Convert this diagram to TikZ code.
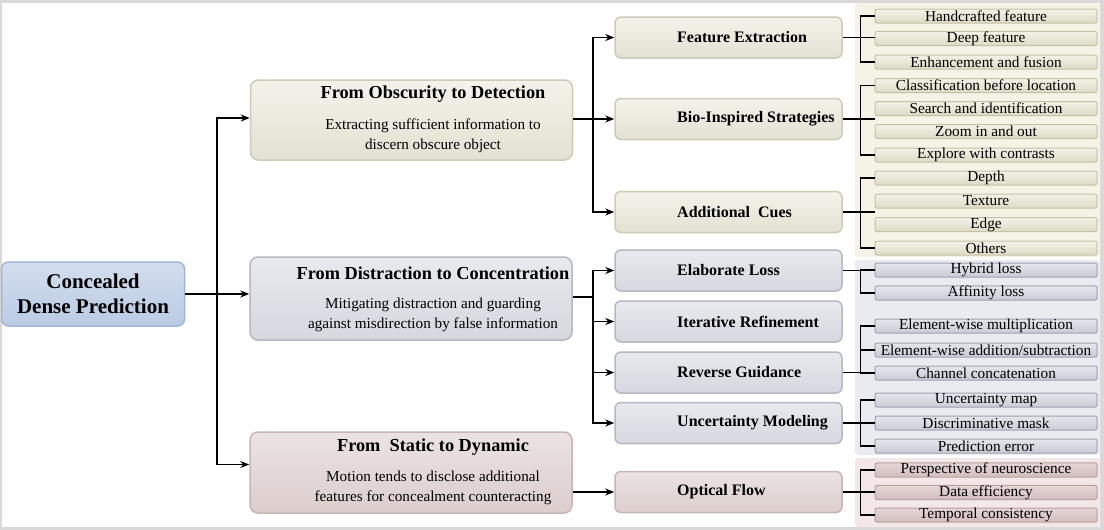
\documentclass[tikz,border=0pt]{standalone}
\usepackage{fontspec}
\setmainfont{Liberation Serif}
\usetikzlibrary{arrows.meta}

\definecolor{frameGray}{HTML}{D9D9D9}
\definecolor{rootTop}{HTML}{D3DEEE}
\definecolor{rootBot}{HTML}{B9CBE4}
\definecolor{rootLine}{HTML}{A0B6D6}
\definecolor{obTop}{HTML}{F4F3EB}
\definecolor{obBot}{HTML}{E2E1D2}
\definecolor{obLine}{HTML}{CDCCB6}
\definecolor{diTop}{HTML}{E9EAEF}
\definecolor{diBot}{HTML}{D6D7DF}
\definecolor{diLine}{HTML}{B6B8C2}
\definecolor{stTop}{HTML}{EBE3E2}
\definecolor{stBot}{HTML}{DCCECD}
\definecolor{stLine}{HTML}{C7B6B5}
\definecolor{obPanel}{HTML}{F5F3E6}
\definecolor{diPanel}{HTML}{EAEBF0}
\definecolor{stPanel}{HTML}{F3E8E7}
\definecolor{obLeafTop}{HTML}{F3F2E6}
\definecolor{obLeafBot}{HTML}{DDDBC6}
\definecolor{obLeafLine}{HTML}{C4C2A6}
\definecolor{diLeafTop}{HTML}{E4E6EC}
\definecolor{diLeafBot}{HTML}{C9CCD6}
\definecolor{diLeafLine}{HTML}{9FA3B0}
\definecolor{stLeafTop}{HTML}{E6D6D6}
\definecolor{stLeafBot}{HTML}{D2BDBD}
\definecolor{stLeafLine}{HTML}{B8A0A0}

\begin{document}
\begin{tikzpicture}[x = 1pt, y = -1pt, font = \rmfamily]
	\tikzstyle{rootStyle} = [rounded corners = 7pt, line width = 1.5pt, draw = rootLine, top color = rootTop, bottom color = rootBot, minimum width = 183pt, minimum height = 64pt, align = center, font = \fontsize{21}{25}\selectfont\bfseries]
	\tikzstyle{catStyle} = [rounded corners = 8pt, line width = 1.5pt, minimum width = 322pt, minimum height = 81pt]
	\tikzstyle{subStyle} = [rounded corners = 6pt, line width = 1.5pt, minimum width = 227pt, minimum height = 41pt]
	\tikzstyle{leafStyle} = [rounded corners = 2pt, line width = 1pt, minimum width = 222pt, minimum height = 14pt, inner sep = 0pt, font = \fontsize{15.3}{16}\selectfont]
	\tikzstyle{obStyle} = [draw = obLine, top color = obTop, bottom color = obBot]
	\tikzstyle{diStyle} = [draw = diLine, top color = diTop, bottom color = diBot]
	\tikzstyle{stStyle} = [draw = stLine, top color = stTop, bottom color = stBot]
	\tikzstyle{obLeaf} = [leafStyle, draw = obLeafLine, top color = obLeafTop, bottom color = obLeafBot]
	\tikzstyle{diLeaf} = [leafStyle, draw = diLeafLine, top color = diLeafTop, bottom color = diLeafBot]
	\tikzstyle{stLeaf} = [leafStyle, draw = stLeafLine, top color = stLeafTop, bottom color = stLeafBot]
	\tikzstyle{catTitle} = [font = \fontsize{18.3}{20}\selectfont\bfseries]
	\tikzstyle{catBody} = [align = center, font = \fontsize{15.2}{19.5}\selectfont]
	\tikzstyle{subText} = [anchor = west, inner sep = 0pt, font = \fontsize{16}{17}\selectfont\bfseries]
	\tikzstyle{branch} = [line width = 1.6pt]
	\tikzstyle{arrowStyle} = [line width = 1.6pt, -{Stealth[length = 9pt, width = 7pt]}]

	% frame and panels
	\fill[frameGray] (0, 0) rectangle (1104, 530);
	\fill[white] (1.5, 3) rectangle (1100, 527);
	\fill[obPanel, rounded corners = 3pt] (855, 3) rectangle (1100, 257);
	\fill[diPanel, rounded corners = 3pt] (855, 260) rectangle (1100, 455);
	\fill[stPanel, rounded corners = 3pt] (855, 458) rectangle (1100, 527);

	% root
	\node[rootStyle] (root) at (93, 294) {Concealed\\Dense Prediction};

	% first level
	\node[catStyle, obStyle, minimum height = 80pt] (obsc) at (411.5, 120) {};
	\node[catStyle, diStyle, minimum height = 83pt] (distr) at (411, 298.5) {};
	\node[catStyle, stStyle] (stat) at (411, 472.5) {};
	\node[catTitle] (obsc-t) at (433, 94) {From Obscurity to Detection};
	\node[catBody] (obsc-b) at (433, 136) {Extracting sufficient information to\\discern obscure object};
	\node[catTitle] (distr-t) at (433, 273) {From Distraction to Concentration};
	\node[catBody] (distr-b) at (433, 315) {Mitigating distraction and guarding\\against misdirection by false information};
	\node[catTitle] (stat-t) at (433, 447) {From\ \ Static to Dynamic};
	\node[catBody] (stat-b) at (433, 488) {Motion tends to disclose additional\\features for concealment counteracting};

	% second level
	\node[subStyle, obStyle] (feat) at (728.5, 37.5) {};
	\node[subStyle, obStyle] (bio) at (728.5, 119) {};
	\node[subStyle, obStyle] (addc) at (728.5, 212) {};
	\node[subStyle, diStyle] (loss) at (728.5, 270.5) {};
	\node[subStyle, diStyle] (iter) at (728.5, 321.5) {};
	\node[subStyle, diStyle] (rev) at (728.5, 372.5) {};
	\node[subStyle, diStyle] (unc) at (728.5, 423) {};
	\node[subStyle, stStyle] (flow) at (728.5, 492) {};
	\node[subText] (feat-t) at (677, 37.5) {Feature Extraction};
	\node[subText] (bio-t) at (677, 119) {Bio-Inspired Strategies};
	\node[subText] (addc-t) at (677, 212) {Additional\ \ Cues};
	\node[subText] (loss-t) at (677, 270.5) {Elaborate Loss};
	\node[subText] (iter-t) at (677, 321.5) {Iterative Refinement};
	\node[subText] (rev-t) at (677, 372.5) {Reverse Guidance};
	\node[subText] (unc-t) at (677, 423) {Uncertainty Modeling};
	\node[subText] (flow-t) at (677, 492) {Optical Flow};

	% leaves
	\node[obLeaf] (hand) at (986, 16) {Handcrafted feature};
	\node[obLeaf] (deep) at (986, 38.5) {Deep feature};
	\node[obLeaf] (enh) at (986, 62) {Enhancement and fusion};
	\node[obLeaf] (cls) at (986, 85.5) {Classification before location};
	\node[obLeaf] (srch) at (986, 108.5) {Search and identification};
	\node[obLeaf] (zoom) at (986, 131.5) {Zoom in and out};
	\node[obLeaf] (expl) at (986, 155) {Explore with contrasts};
	\node[obLeaf] (depth) at (986, 178) {Depth};
	\node[obLeaf] (tex) at (986, 201) {Texture};
	\node[obLeaf] (edge) at (986, 224.5) {Edge};
	\node[obLeaf] (oth) at (986, 248) {Others};
	\node[diLeaf] (hyb) at (986, 270) {Hybrid loss};
	\node[diLeaf] (aff) at (986, 293) {Affinity loss};
	\node[diLeaf] (mul) at (986, 326) {Element-wise multiplication};
	\node[diLeaf] (add) at (986, 350) {Element-wise addition/subtraction};
	\node[diLeaf] (chan) at (986, 373) {Channel concatenation};
	\node[diLeaf] (umap) at (986, 400) {Uncertainty map};
	\node[diLeaf] (dmask) at (986, 423) {Discriminative mask};
	\node[diLeaf] (perr) at (986, 446) {Prediction error};
	\node[stLeaf] (persp) at (986, 470) {Perspective of neuroscience};
	\node[stLeaf] (deff) at (986, 492.5) {Data efficiency};
	\node[stLeaf] (temp) at (986, 515) {Temporal consistency};

	% root to first level
	\coordinate (trunk) at (217, 294);
	\draw[arrowStyle] (root.east) -- (distr.west |- root.east);
	\draw[arrowStyle] (trunk) |- ([yshift = 2pt]obsc.west);
	\draw[arrowStyle] (trunk) |- ([yshift = 8pt]stat.west);

	% first level to second level
	\coordinate (obr) at (593, 119);
	\coordinate (dbr) at (593, 297);
	\draw[arrowStyle] (obsc.east |- obr) -- (bio.west);
	\draw[arrowStyle] (obr) |- (feat.west);
	\draw[arrowStyle] (obr) |- (addc.west);
	\draw[branch] (distr.east |- dbr) -- (dbr);
	\draw[arrowStyle] (dbr) |- (loss.west);
	\draw[arrowStyle] (dbr) |- (iter.west);
	\draw[arrowStyle] (dbr) |- (rev.west);
	\draw[arrowStyle] (dbr) |- (unc.west);
	\draw[arrowStyle] (stat.east |- flow.west) -- (flow.west);

	% second level to leaves
	\draw[branch] (feat.east) -- (feat.east -| deep.west);
	\draw[branch] (hand.west) -- ++(-14, 0) |- (enh.west);
	\draw[branch] (bio.east) -- (bio.east -| srch.west);
	\draw[branch] (cls.west) -- ++(-14, 0) |- (expl.west);
	\draw[branch] (addc.east) -- (addc.east -| tex.west);
	\draw[branch] (depth.west) -- ++(-14, 0) |- (oth.west);
	\draw[branch] (loss.east) -- (loss.east -| hyb.west);
	\draw[branch] (hyb.west) -- ++(-14, 0) |- (aff.west);
	\draw[branch] (rev.east) -- (rev.east -| chan.west);
	\draw[branch] (mul.west) -- ++(-14, 0) |- (chan.west);
	\draw[branch] (add.west) -- ++(-14, 0);
	\draw[branch] (unc.east) -- (unc.east -| dmask.west);
	\draw[branch] (umap.west) -- ++(-14, 0) |- (perr.west);
	\draw[branch] (flow.east) -- (flow.east -| deff.west);
	\draw[branch] (persp.west) -- ++(-14, 0) |- (temp.west);
\end{tikzpicture}
\end{document}
